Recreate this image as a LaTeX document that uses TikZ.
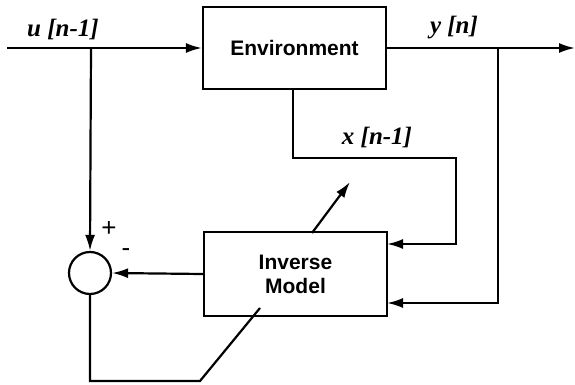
\documentclass[tikz,border=0pt]{standalone}
\usepackage{fontspec}
\setmainfont{Liberation Serif}
\setsansfont{Liberation Sans}
\usetikzlibrary{arrows.meta}
\begin{document}
\begin{tikzpicture}[x=1pt,y=-1pt,
  line width=2.2pt,
  arr/.style={-{Latex[length=16pt,width=10pt]}},
  blk/.style={draw,rectangle,inner sep=0pt,font=\sffamily\bfseries\fontsize{21}{24}\selectfont,align=center},
  lbl/.style={font=\rmfamily\bfseries\itshape\fontsize{25}{27}\selectfont,inner sep=0pt},
  sgn/.style={font=\sffamily\fontsize{26}{28}\selectfont,inner sep=0pt}]
\useasboundingbox (0,0) rectangle (575,385);
\node[blk,minimum width=183pt,minimum height=82pt] (env) at (294.5,48) {Environment};
\node[blk,minimum width=183pt,minimum height=84pt] (inv) at (295.5,274) {Inverse\\Model};
\node[draw,circle,minimum size=42pt,inner sep=0pt] (sum) at (90,273) {};
\coordinate (uin) at (7,48);
\coordinate (b1) at (91,48);
\coordinate (b2) at (498,48);
\coordinate (yout) at (575,48);
\coordinate (e1) at (293,158);
\coordinate (e2) at (456,158);
\coordinate (e3) at (456,244);
\coordinate (i1) at (387,244);
\coordinate (c1) at (498,303);
\coordinate (i2) at (387,303);
\coordinate (s1) at (90,381);
\coordinate (s2) at (200,381);
\coordinate (s3) at (260,308);
\coordinate (d1) at (312,233);
\coordinate (d2) at (350,182);
\draw[arr] (uin) -- (env.west);
\draw[arr] (b1) -- (sum.north);
\draw[arr] (env.east) -- (yout);
\draw[arr] (b2) -- (c1) -- (i2);
\draw[arr] (env.south -| e1) -- (e1) -- (e2) -- (e3) -- (i1);
\draw[arr] (inv.west) -- (sum.east);
\draw (sum.south) -- (s1) -- (s2) -- (s3);
\draw[arr] (d1) -- (d2);
\node[lbl] (ul) at (63,30) {u [n-1]};
\node[lbl] (yl) at (454,28) {y [n]};
\node[lbl] (xl) at (377,137) {x [n-1]};
\node[sgn] (plus) at (109,229) {+};
\node[sgn] (minus) at (126,253) {-};
\end{tikzpicture}
\end{document}
